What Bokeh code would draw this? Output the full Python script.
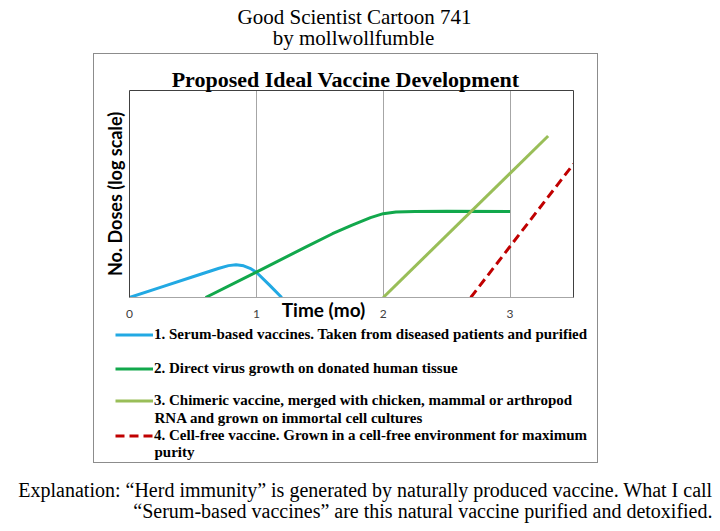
from bokeh.plotting import figure
from bokeh.models import (Range1d, FixedTicker, LinearAxis, Label, Legend, LegendItem,
                          InlineStyleSheet)
from bokeh.embed import file_html
from bokeh.resources import INLINE

# ---------------- data ----------------
time_ticks = [0, 1, 2, 3]

serum_x = [0, 0.25, 0.5, 0.7, 0.78, 0.84, 0.9, 0.95, 1.0, 1.1, 1.2]
serum_y = [0, 0.5, 1.0, 1.4, 1.54, 1.58, 1.53, 1.41, 1.22, 0.62, 0]

direct_x = [0.6, 1.0, 1.4, 1.6, 1.75, 1.9, 2.0, 2.1, 2.25, 2.5, 3.0]
direct_y = [0, 1.23, 2.47, 3.08, 3.48, 3.86, 4.05, 4.13, 4.16, 4.17, 4.15]

chimeric_x = [2.0, 3.3]
chimeric_y = [0, 7.8]

cellfree_x = [2.69, 3.5]
cellfree_y = [0, 6.45]

labels = [
    "1. Serum-based vaccines. Taken from diseased patients and purified",
    "2. Direct virus growth on donated human tissue",
    "3. Chimeric vaccine, merged with chicken, mammal or arthropod",
    "4. Cell-free vaccine. Grown in a cell-free environment for maximum",
]
label_cont = ["RNA and grown on immortal cell cultures", "purity"]

colors = ["#22A9E3", "#12A84C", "#99BE58", "#C00000"]
dashes = ["solid", "solid", "solid", "9 5"]

SERIF = "Liberation Serif"
SANS = "Lato"

W, H = 720, 531
FL, FR, FT, FB = 129, 573, 90, 297   # chart frame in page pixels

# ---------------- chart figure ----------------
p = figure(width=W, height=H, output_backend="svg", toolbar_location=None,
           x_range=Range1d(0, 3.5), y_range=Range1d(0, 10),
           min_border_left=FL, min_border_right=W - FR, min_border_top=FT,
           min_border_bottom=H - FB, title=None)
p.outline_line_color = None
p.background_fill_color = "white"
p.border_fill_color = "white"

# outer grey box of the cartoon panel (pure decoration)
p.stylesheets = [InlineStyleSheet(css="""
:host { position: relative; }
:host::after { content: ""; position: absolute; left: 93px; top: 53px;
  width: 503px; height: 408px; border: 1px solid #8C8C8C; pointer-events: none; }
""")]

xa = p.xaxis[0]
xa.ticker = FixedTicker(ticks=time_ticks)
xa.major_tick_in = 0
xa.major_tick_out = 0
xa.minor_tick_line_color = None
xa.major_label_standoff = 12
xa.major_label_text_font = SANS
xa.major_label_text_font_size = "12px"
xa.major_label_text_color = "#404040"
xa.axis_line_color = "#A6A6A6"

ya = p.yaxis[0]
ya.ticker = FixedTicker(ticks=[])
ya.major_tick_in = 0
ya.major_tick_out = 0
ya.minor_tick_line_color = None
ya.major_label_standoff = 0
ya.axis_line_color = "#404040"
ya.axis_label = "No. Doses (log scale)"
ya.axis_label_text_font = SANS
ya.axis_label_text_font_style = "bold"
ya.axis_label_text_font_size = "18px"
ya.axis_label_text_color = "black"
ya.axis_label_standoff = 4

for side in ("above", "right"):
    ax = LinearAxis(ticker=FixedTicker(ticks=[]), axis_line_color="#404040",
                    major_tick_in=0, major_tick_out=0, minor_tick_line_color=None,
                    major_label_standoff=0, major_label_text_font_size="0px")
    p.add_layout(ax, side)

p.xgrid.ticker = FixedTicker(ticks=time_ticks)
p.xgrid.grid_line_color = "#A6A6A6"
p.ygrid.visible = False

series = [(serum_x, serum_y), (direct_x, direct_y), (chimeric_x, chimeric_y),
          (cellfree_x, cellfree_y)]
for (xs, ys), c, d in zip(series, colors, dashes):
    p.line(xs, ys, line_color=c, line_width=3, line_dash=d)

# ---------------- transparent text overlay (frame = whole canvas) ----------------
t = figure(width=W, height=H, output_backend="svg", toolbar_location=None,
           x_range=Range1d(0, W), y_range=Range1d(0, H),
           x_axis_location=None, y_axis_location=None, title=None,
           min_border=0, min_border_left=0, min_border_right=0,
           min_border_top=0, min_border_bottom=0)
t.grid.visible = False
t.outline_line_color = None
t.background_fill_color = None
t.border_fill_color = None
t.styles = {"position": "absolute", "top": "0px", "left": "0px"}


def add_label(px, py, **kw):
    t.add_layout(Label(x=px, y=H - py, x_units="screen", y_units="screen",
                       text_color="black", text_baseline="middle", **kw))


# legend (samples share the chart's line styles; sample renderers hold no points)
LEG_H = 17
leg_centers = [334, 368, 400, 435]
nan = float("nan")
for lab, c, d, cy in zip(labels, colors, dashes, leg_centers):
    sample = t.line(x=[nan], y=[nan], line_color=c, line_width=3, line_dash=d)
    lg = Legend(items=[LegendItem(label=lab, renderers=[sample])],
                location=(115, H - (cy + LEG_H / 2)), orientation="vertical",
                padding=0, margin=0, spacing=0,
                glyph_width=38, glyph_height=LEG_H, label_height=LEG_H,
                label_standoff=1, border_line_color=None,
                background_fill_alpha=0,
                label_text_font=SERIF, label_text_font_style="bold",
                label_text_font_size="15px", label_text_color="black")
    t.add_layout(lg, "center")

for txt, cy in zip(label_cont, [417, 451]):
    add_label(154, cy, text=txt, text_font=SERIF, text_font_style="bold",
              text_font_size="15px", text_align="left")

add_label(354, 16, text="Good Scientist Cartoon 741", text_font=SERIF,
          text_font_size="21px", text_align="center")
add_label(353, 37, text="by mollwollfumble", text_font=SERIF,
          text_font_size="21px", text_align="center")
add_label(345, 79, text="Proposed Ideal Vaccine Development", text_font=SERIF,
          text_font_style="bold", text_font_size="22px", text_align="center")
add_label(323, 309, text="Time (mo)", text_font=SANS, text_font_style="bold",
          text_font_size="19px", text_align="center")
add_label(712, 489,
          text="Explanation: \u201cHerd immunity\u201d is generated by naturally produced vaccine. What I call",
          text_font=SERIF, text_font_size="20px", text_align="right")
add_label(712, 510,
          text="\u201cSerum-based vaccines\u201d are this natural vaccine purified and detoxified.",
          text_font=SERIF, text_font_size="20px", text_align="right")

open("out.html", "w").write(file_html([p, t], INLINE))
